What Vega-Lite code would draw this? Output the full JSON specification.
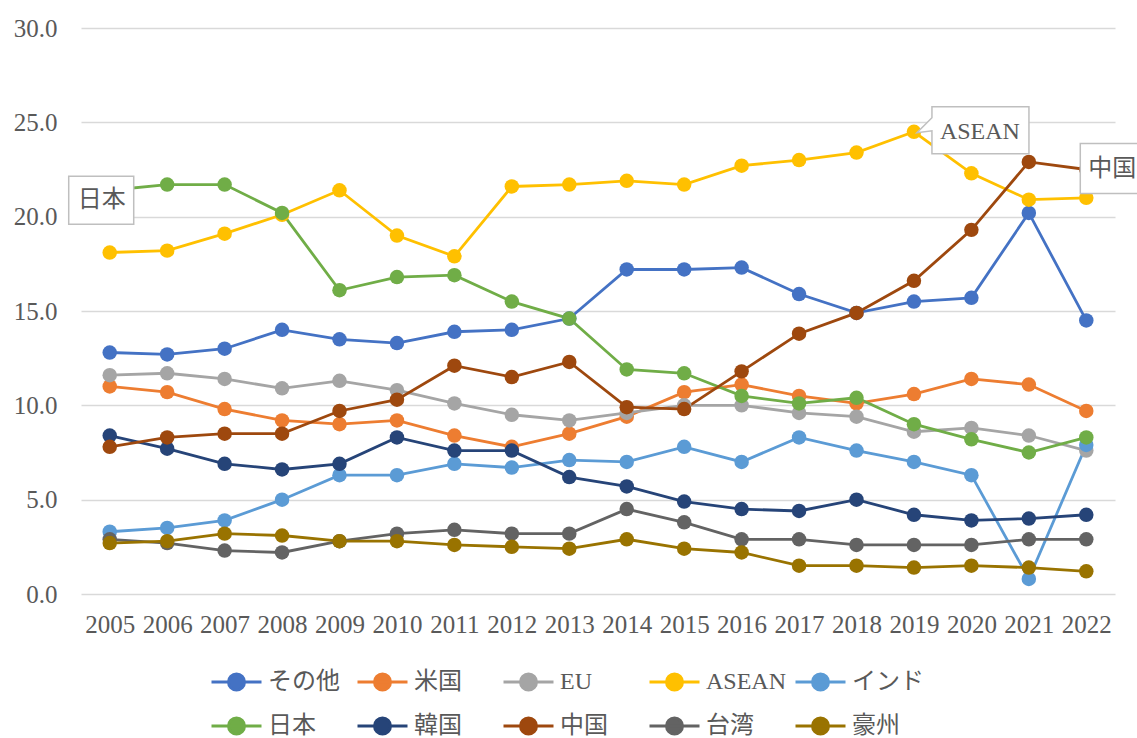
{
  "$schema": "https://vega.github.io/schema/vega-lite/v6.json",
  "width": 1034,
  "height": 566,
  "autosize": {"type": "none"},
  "padding": {"left": 81, "top": 28, "right": 22, "bottom": 144},
  "background": "white",
  "config": {
    "view": {"stroke": null},
    "font": "Liberation Serif, Noto Sans CJK JP"
  },
  "data": {"values": [
    {"year":"2005","series":"その他","value":12.8},{"year":"2006","series":"その他","value":12.7},{"year":"2007","series":"その他","value":13.0},{"year":"2008","series":"その他","value":14.0},{"year":"2009","series":"その他","value":13.5},{"year":"2010","series":"その他","value":13.3},{"year":"2011","series":"その他","value":13.9},{"year":"2012","series":"その他","value":14.0},{"year":"2013","series":"その他","value":14.6},{"year":"2014","series":"その他","value":17.2},{"year":"2015","series":"その他","value":17.2},{"year":"2016","series":"その他","value":17.3},{"year":"2017","series":"その他","value":15.9},{"year":"2018","series":"その他","value":14.9},{"year":"2019","series":"その他","value":15.5},{"year":"2020","series":"その他","value":15.7},{"year":"2021","series":"その他","value":20.2},{"year":"2022","series":"その他","value":14.5},
    {"year":"2005","series":"米国","value":11.0},{"year":"2006","series":"米国","value":10.7},{"year":"2007","series":"米国","value":9.8},{"year":"2008","series":"米国","value":9.2},{"year":"2009","series":"米国","value":9.0},{"year":"2010","series":"米国","value":9.2},{"year":"2011","series":"米国","value":8.4},{"year":"2012","series":"米国","value":7.8},{"year":"2013","series":"米国","value":8.5},{"year":"2014","series":"米国","value":9.4},{"year":"2015","series":"米国","value":10.7},{"year":"2016","series":"米国","value":11.1},{"year":"2017","series":"米国","value":10.5},{"year":"2018","series":"米国","value":10.1},{"year":"2019","series":"米国","value":10.6},{"year":"2020","series":"米国","value":11.4},{"year":"2021","series":"米国","value":11.1},{"year":"2022","series":"米国","value":9.7},
    {"year":"2005","series":"EU","value":11.6},{"year":"2006","series":"EU","value":11.7},{"year":"2007","series":"EU","value":11.4},{"year":"2008","series":"EU","value":10.9},{"year":"2009","series":"EU","value":11.3},{"year":"2010","series":"EU","value":10.8},{"year":"2011","series":"EU","value":10.1},{"year":"2012","series":"EU","value":9.5},{"year":"2013","series":"EU","value":9.2},{"year":"2014","series":"EU","value":9.6},{"year":"2015","series":"EU","value":10.0},{"year":"2016","series":"EU","value":10.0},{"year":"2017","series":"EU","value":9.6},{"year":"2018","series":"EU","value":9.4},{"year":"2019","series":"EU","value":8.6},{"year":"2020","series":"EU","value":8.8},{"year":"2021","series":"EU","value":8.4},{"year":"2022","series":"EU","value":7.6},
    {"year":"2005","series":"ASEAN","value":18.1},{"year":"2006","series":"ASEAN","value":18.2},{"year":"2007","series":"ASEAN","value":19.1},{"year":"2008","series":"ASEAN","value":20.1},{"year":"2009","series":"ASEAN","value":21.4},{"year":"2010","series":"ASEAN","value":19.0},{"year":"2011","series":"ASEAN","value":17.9},{"year":"2012","series":"ASEAN","value":21.6},{"year":"2013","series":"ASEAN","value":21.7},{"year":"2014","series":"ASEAN","value":21.9},{"year":"2015","series":"ASEAN","value":21.7},{"year":"2016","series":"ASEAN","value":22.7},{"year":"2017","series":"ASEAN","value":23.0},{"year":"2018","series":"ASEAN","value":23.4},{"year":"2019","series":"ASEAN","value":24.5},{"year":"2020","series":"ASEAN","value":22.3},{"year":"2021","series":"ASEAN","value":20.9},{"year":"2022","series":"ASEAN","value":21.0},
    {"year":"2005","series":"インド","value":3.3},{"year":"2006","series":"インド","value":3.5},{"year":"2007","series":"インド","value":3.9},{"year":"2008","series":"インド","value":5.0},{"year":"2009","series":"インド","value":6.3},{"year":"2010","series":"インド","value":6.3},{"year":"2011","series":"インド","value":6.9},{"year":"2012","series":"インド","value":6.7},{"year":"2013","series":"インド","value":7.1},{"year":"2014","series":"インド","value":7.0},{"year":"2015","series":"インド","value":7.8},{"year":"2016","series":"インド","value":7.0},{"year":"2017","series":"インド","value":8.3},{"year":"2018","series":"インド","value":7.6},{"year":"2019","series":"インド","value":7.0},{"year":"2020","series":"インド","value":6.3},{"year":"2021","series":"インド","value":0.8},{"year":"2022","series":"インド","value":7.9},
    {"year":"2005","series":"日本","value":21.4},{"year":"2006","series":"日本","value":21.7},{"year":"2007","series":"日本","value":21.7},{"year":"2008","series":"日本","value":20.2},{"year":"2009","series":"日本","value":16.1},{"year":"2010","series":"日本","value":16.8},{"year":"2011","series":"日本","value":16.9},{"year":"2012","series":"日本","value":15.5},{"year":"2013","series":"日本","value":14.6},{"year":"2014","series":"日本","value":11.9},{"year":"2015","series":"日本","value":11.7},{"year":"2016","series":"日本","value":10.5},{"year":"2017","series":"日本","value":10.1},{"year":"2018","series":"日本","value":10.4},{"year":"2019","series":"日本","value":9.0},{"year":"2020","series":"日本","value":8.2},{"year":"2021","series":"日本","value":7.5},{"year":"2022","series":"日本","value":8.3},
    {"year":"2005","series":"韓国","value":8.4},{"year":"2006","series":"韓国","value":7.7},{"year":"2007","series":"韓国","value":6.9},{"year":"2008","series":"韓国","value":6.6},{"year":"2009","series":"韓国","value":6.9},{"year":"2010","series":"韓国","value":8.3},{"year":"2011","series":"韓国","value":7.6},{"year":"2012","series":"韓国","value":7.6},{"year":"2013","series":"韓国","value":6.2},{"year":"2014","series":"韓国","value":5.7},{"year":"2015","series":"韓国","value":4.9},{"year":"2016","series":"韓国","value":4.5},{"year":"2017","series":"韓国","value":4.4},{"year":"2018","series":"韓国","value":5.0},{"year":"2019","series":"韓国","value":4.2},{"year":"2020","series":"韓国","value":3.9},{"year":"2021","series":"韓国","value":4.0},{"year":"2022","series":"韓国","value":4.2},
    {"year":"2005","series":"中国","value":7.8},{"year":"2006","series":"中国","value":8.3},{"year":"2007","series":"中国","value":8.5},{"year":"2008","series":"中国","value":8.5},{"year":"2009","series":"中国","value":9.7},{"year":"2010","series":"中国","value":10.3},{"year":"2011","series":"中国","value":12.1},{"year":"2012","series":"中国","value":11.5},{"year":"2013","series":"中国","value":12.3},{"year":"2014","series":"中国","value":9.9},{"year":"2015","series":"中国","value":9.8},{"year":"2016","series":"中国","value":11.8},{"year":"2017","series":"中国","value":13.8},{"year":"2018","series":"中国","value":14.9},{"year":"2019","series":"中国","value":16.6},{"year":"2020","series":"中国","value":19.3},{"year":"2021","series":"中国","value":22.9},{"year":"2022","series":"中国","value":22.5},
    {"year":"2005","series":"台湾","value":2.9},{"year":"2006","series":"台湾","value":2.7},{"year":"2007","series":"台湾","value":2.3},{"year":"2008","series":"台湾","value":2.2},{"year":"2009","series":"台湾","value":2.8},{"year":"2010","series":"台湾","value":3.2},{"year":"2011","series":"台湾","value":3.4},{"year":"2012","series":"台湾","value":3.2},{"year":"2013","series":"台湾","value":3.2},{"year":"2014","series":"台湾","value":4.5},{"year":"2015","series":"台湾","value":3.8},{"year":"2016","series":"台湾","value":2.9},{"year":"2017","series":"台湾","value":2.9},{"year":"2018","series":"台湾","value":2.6},{"year":"2019","series":"台湾","value":2.6},{"year":"2020","series":"台湾","value":2.6},{"year":"2021","series":"台湾","value":2.9},{"year":"2022","series":"台湾","value":2.9},
    {"year":"2005","series":"豪州","value":2.7},{"year":"2006","series":"豪州","value":2.8},{"year":"2007","series":"豪州","value":3.2},{"year":"2008","series":"豪州","value":3.1},{"year":"2009","series":"豪州","value":2.8},{"year":"2010","series":"豪州","value":2.8},{"year":"2011","series":"豪州","value":2.6},{"year":"2012","series":"豪州","value":2.5},{"year":"2013","series":"豪州","value":2.4},{"year":"2014","series":"豪州","value":2.9},{"year":"2015","series":"豪州","value":2.4},{"year":"2016","series":"豪州","value":2.2},{"year":"2017","series":"豪州","value":1.5},{"year":"2018","series":"豪州","value":1.5},{"year":"2019","series":"豪州","value":1.4},{"year":"2020","series":"豪州","value":1.5},{"year":"2021","series":"豪州","value":1.4},{"year":"2022","series":"豪州","value":1.2}
  ]},
  "encoding": {
    "x": {
      "field": "year", "type": "ordinal", "title": null,
      "scale": {"type": "point", "padding": 0.5},
      "axis": {"domain": false, "ticks": false, "tickSize": 0, "grid": false, "labelAngle": 0,
        "labelFont": "Liberation Serif", "labelFontSize": 25, "labelColor": "#595959", "labelPadding": 18}
    },
    "y": {
      "field": "value", "type": "quantitative", "title": null,
      "scale": {"domain": [0, 30], "nice": false, "zero": true},
      "axis": {"values": [0, 5, 10, 15, 20, 25, 30], "format": ".1f", "domain": false, "ticks": false, "tickSize": 0,
        "grid": true, "gridColor": "#D9D9D9", "gridWidth": 1.5,
        "labelFont": "Liberation Serif", "labelFontSize": 25, "labelColor": "#595959", "labelPadding": 24}
    }
  },
  "layer": [
    {
      "encoding": {
        "color": {
          "field": "series", "type": "nominal",
          "scale": {
            "domain": ["その他", "米国", "EU", "ASEAN", "インド", "日本", "韓国", "中国", "台湾", "豪州"],
            "range": ["#4472C4", "#ED7D31", "#A5A5A5", "#FFC000", "#5B9BD5", "#70AD47", "#264478", "#9E480E", "#636363", "#997300"]
          },
          "legend": {
            "title": null, "orient": "none", "legendX": 129, "legendY": 640,
            "direction": "horizontal", "columns": 5, "gridAlign": "all",
            "columnPadding": 2, "rowPadding": 16, "padding": 0,
            "symbolType": "M-1,0L3,0M1.64,0A0.64,0.64,0,1,1,0.36,0A0.64,0.64,0,1,1,1.64,0Z",
            "symbolSize": 625, "symbolStrokeWidth": 3,
            "labelOffset": 30, "labelFont": "Liberation Serif, Noto Sans CJK JP", "labelFontSize": 24, "labelColor": "#595959", "labelLimit": 200,
            "encode": {"symbols": {"update": {
              "fill": {"scale": "color", "field": "value"},
              "stroke": {"scale": "color", "field": "value"},
              "strokeWidth": {"value": 3},
              "opacity": {"value": 1}
            }}}
          }
        }
      },
      "layer": [
        {"mark": {"type": "line", "strokeWidth": 2.8}},
        {"mark": {"type": "point", "filled": true, "size": 210, "opacity": 1}}
      ]
    },
    {
      "transform": [{"filter": "datum.series == '日本' && datum.year == '2005'"}],
      "layer": [
        {"mark": {"type": "point", "shape": "M-41,-14L24,-14L24,34L-41,34Z", "size": 4, "filled": true, "fill": "white", "stroke": "#BFBFBF", "strokeWidth": 1.5, "opacity": 1}},
        {"mark": {"type": "text", "font": "Liberation Serif, Noto Sans CJK JP", "fontSize": 24, "color": "#595959", "align": "center", "baseline": "middle", "dx": -8, "dy": 10}, "encoding": {"text": {"field": "series"}}}
      ]
    },
    {
      "transform": [{"filter": "datum.series == 'ASEAN' && datum.year == '2019'"}],
      "layer": [
        {"mark": {"type": "point", "shape": "M18,-25L115,-25L115,22L18,22L18,-1L3,1L18,-14Z", "size": 4, "filled": true, "fill": "white", "stroke": "#BFBFBF", "strokeWidth": 1.5, "opacity": 1}},
        {"mark": {"type": "text", "font": "Liberation Serif, Noto Sans CJK JP", "fontSize": 24, "color": "#595959", "align": "center", "baseline": "middle", "dx": 66, "dy": 0}, "encoding": {"text": {"field": "series"}}}
      ]
    },
    {
      "transform": [{"filter": "datum.series == '中国' && datum.year == '2022'"}],
      "layer": [
        {"mark": {"type": "point", "shape": "M-6,-26L80,-26L80,24L-6,24Z", "size": 4, "filled": true, "fill": "white", "stroke": "#BFBFBF", "strokeWidth": 1.5, "opacity": 1}},
        {"mark": {"type": "text", "font": "Liberation Serif, Noto Sans CJK JP", "fontSize": 24, "color": "#595959", "align": "center", "baseline": "middle", "dx": 26, "dy": -1}, "encoding": {"text": {"field": "series"}}}
      ]
    }
  ]
}
